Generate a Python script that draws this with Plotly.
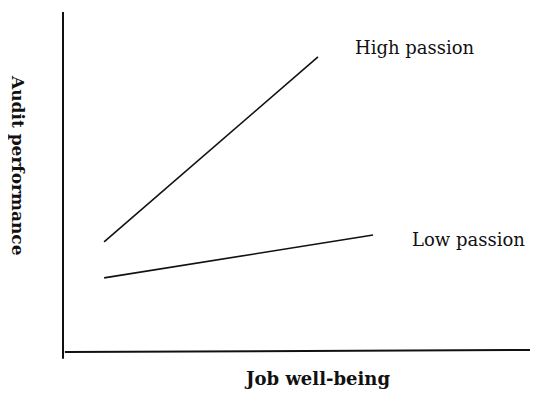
import plotly.graph_objects as go

# interaction plot values (axis units 0-10)
WELL_BEING_HIGH = [0.88, 5.46]
PERF_HIGH = [3.24, 8.68]
WELL_BEING_LOW = [0.88, 6.64]
PERF_LOW = [2.18, 3.44]
SERIES_NAMES = ["High passion", "Low passion"]
X_TITLE = "Job well-being"
Y_TITLE = "Audit performance"

FONT = "DejaVu Serif"
INK = "#111111"

fig = go.Figure()
fig.add_trace(go.Scatter(x=WELL_BEING_HIGH, y=PERF_HIGH, mode="lines",
                         line=dict(color=INK, width=1.6), name=SERIES_NAMES[0]))
fig.add_trace(go.Scatter(x=WELL_BEING_LOW, y=PERF_LOW, mode="lines",
                         line=dict(color=INK, width=1.6), name=SERIES_NAMES[1]))

# series labels, placed beside the line ends
fig.add_annotation(x=WELL_BEING_HIGH[-1], y=PERF_HIGH[-1], text=SERIES_NAMES[0],
                   showarrow=False, xanchor="left", yanchor="middle",
                   xshift=35, yshift=9, font=dict(family=FONT, size=18, color=INK))
fig.add_annotation(x=WELL_BEING_LOW[-1], y=PERF_LOW[-1], text=SERIES_NAMES[1],
                   showarrow=False, xanchor="left", yanchor="middle",
                   xshift=37, yshift=-4, font=dict(family=FONT, size=18, color=INK))

# hand-drawn looking axes
fig.add_shape(type="line", xref="paper", yref="paper", x0=0, x1=0, y0=-0.02, y1=1,
              line=dict(color=INK, width=2))
fig.add_shape(type="line", xref="paper", yref="paper", x0=0.004, x1=1, y0=0, y1=0.006,
              line=dict(color=INK, width=2))

# axis titles as annotations (x title sits right of centre in the original)
fig.add_annotation(xref="paper", yref="paper", x=0.544, y=-0.079, text=f"<b>{X_TITLE}</b>",
                   showarrow=False, xanchor="center", yanchor="middle",
                   font=dict(family=FONT, size=18, color=INK))
fig.add_annotation(xref="paper", yref="paper", x=-0.0964, y=0.547, text=f"<b>{Y_TITLE}</b>",
                   textangle=90, showarrow=False, xanchor="center", yanchor="middle",
                   font=dict(family=FONT, size=17, color=INK))

# page body adds an 8px offset, margins allow for it
fig.update_layout(
    width=550, height=403,
    paper_bgcolor="white", plot_bgcolor="white",
    margin=dict(l=55, r=28, t=4, b=59),
    showlegend=False,
    xaxis=dict(range=[0, 10], showgrid=False, zeroline=False, showticklabels=False,
               ticks=""),
    yaxis=dict(range=[0, 10], showgrid=False, zeroline=False, showticklabels=False,
               ticks=""),
)

fig.write_html("out.html")
